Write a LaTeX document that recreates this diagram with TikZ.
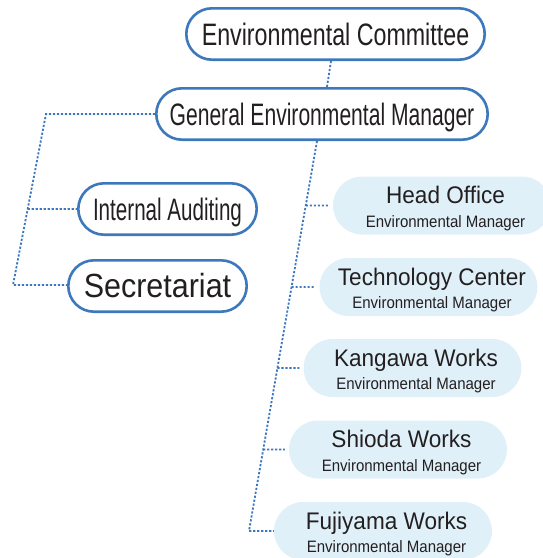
\documentclass[tikz,border=0pt]{standalone}
\usepackage{fontspec}
\setmainfont{Liberation Sans}
\newfontfamily\fEC{Liberation Sans}[FakeStretch=0.75]
\newfontfamily\fGEM{Liberation Sans}[FakeStretch=0.68]
\newfontfamily\fIA{Liberation Sans}[FakeStretch=0.665]
\newfontfamily\fSec{Liberation Sans}[FakeStretch=0.91]
\newfontfamily\fTitle{Liberation Sans}[FakeStretch=0.94]
\newfontfamily\fSub{Liberation Sans}[FakeStretch=0.91]
\definecolor{orgblue}{RGB}{61,119,188}
\definecolor{orgfill}{RGB}{224,240,249}
\definecolor{orgtext}{RGB}{35,31,32}
\tikzset{
  bigbox/.style={draw=orgblue, line width=2.6pt, fill=white, rounded corners=25.7pt,
    minimum height=51.4pt, inner sep=0pt, text height=22.5pt, text depth=0pt, text=orgtext},
  unitbox/.style={fill=orgfill, rounded corners=29pt, minimum height=58pt,
    minimum width=218pt, inner sep=0pt},
  unittitle/.style={anchor=base, text=orgtext, inner sep=0pt, font=\fTitle\fontsize{24}{24}\selectfont},
  unitsub/.style={anchor=base, text=orgtext, inner sep=0pt, font=\fSub\fontsize{16.5}{16.5}\selectfont},
  dotline/.style={draw=orgblue, line width=1.8pt, dash pattern=on 2.2pt off 1.8pt}
}
\begin{document}
\begin{tikzpicture}[x=1pt,y=1pt]
\useasboundingbox (0,0) rectangle (543,-558);
% top boxes
\node[bigbox, minimum width=298.4pt, font=\fEC\fontsize{31}{31}\selectfont] (EC) at (335.5,-34) {Environmental Committee};
\node[bigbox, minimum width=331.4pt, font=\fGEM\fontsize{31}{31}\selectfont] (GEM) at (322,-114) {General Environmental Manager};
\node[bigbox, minimum width=178.4pt, font=\fIA\fontsize{31}{31}\selectfont] (IA) at (167.5,-209) {Internal Auditing};
\node[bigbox, minimum width=178.4pt, font=\fSec\fontsize{33.5}{33.5}\selectfont] (Sec) at (157.5,-286) {Secretariat};
% unit boxes
\node[unitbox] (HO) at (442,-205.5) {};
\node[unitbox] (TC) at (428.5,-287) {};
\node[unitbox] (KW) at (412.5,-368) {};
\node[unitbox] (SW) at (398,-449.5) {};
\node[unitbox] (FW) at (383,-531) {};
\foreach \n/\t in {HO/Head Office, TC/Technology Center, KW/Kangawa Works, SW/Shioda Works, FW/Fujiyama Works}{
  \node[unittitle] (\n-t) at ([xshift=3.5pt,yshift=2pt]\n.center) {\t};
  \node[unitsub] (\n-s) at ([xshift=3.5pt,yshift=-21.5pt]\n.center) {Environmental Manager};
}
% connectors
\draw[dotline] ([xshift=-4.5pt]EC.south) -- ([xshift=5pt]GEM.north);
\coordinate (L1) at (46,-114);
\coordinate (L2) at (13,-285);
\draw[dotline] (GEM.west) -- (L1) -- (L2) -- (L2 -| Sec.west);
\draw[dotline] (intersection of L1--L2 and IA.west--IA.east) -- (IA.west);
\coordinate (T1) at ([xshift=-5pt]GEM.south);
\coordinate (T2) at (249,-531);
\draw[dotline] (T1) -- (T2) -- (T2 -| FW.west);
\foreach \n in {HO,TC,KW,SW}{
  \draw[dotline] (intersection of T1--T2 and \n.west--\n.east) -- ([xshift=-4pt]\n.west);
}
\end{tikzpicture}
\end{document}
